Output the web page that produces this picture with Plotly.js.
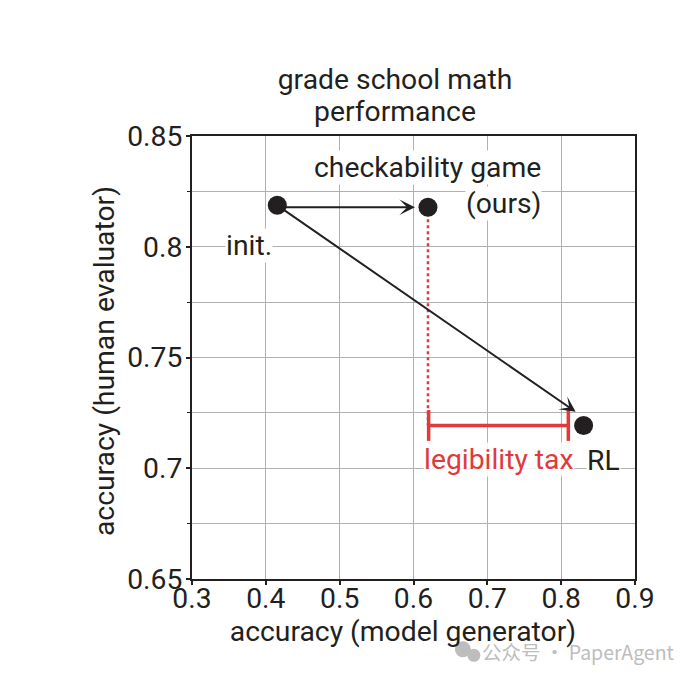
<!DOCTYPE html>
<html><head><meta charset="utf-8">
<script src="https://cdn.plot.ly/plotly-3.0.1.min.js"></script>
<style>html,body{margin:0;padding:0;background:#fff}</style></head>
<body><div id="c" style="width:698px;height:678px"></div>
<script>
const pointNames = ["init.", "ours", "RL"];
const pointX = [0.4155, 0.6196, 0.8304];
const pointY = [0.8187, 0.8178, 0.7193];
const dottedX = [0.6196, 0.6196];
const dottedY = [0.8178, 0.7193];
const taxX = [0.6205, 0.8097];
const taxY = [0.7193, 0.7193];
const arrow1 = {x0: 0.4155, y0: 0.8178, x1: 0.602, y1: 0.8178};
const arrow2 = {x0: 0.4155, y0: 0.8187, x1: 0.8196, y1: 0.7255};
const xTicks = [0.3,0.4,0.5,0.6,0.7,0.8,0.9];
const xLabels = ["0.3","0.4","0.5","0.6","0.7","0.8","0.9"];
const yTicks = [0.65,0.7,0.75,0.8,0.85];
const yLabels = ["0.65","0.7","0.75","0.8","0.85"];
const ink = "#231f20", red = "#e03a3a", grid = "#b0b0b0", mark = "#bdbdbd";
const font = "Roboto, sans-serif";
const fs = 28.3;
const L = 191.5, R = 62.5, T = 135.7, B = 99.3;
const PW = 698 - L - R, PH = 678 - T - B, PB = 678 - B;
const label = (t,x,y,o={}) => Object.assign({text:t,x:x,y:y,xref:"x",yref:"y",showarrow:false,
  font:{family:font,size:fs,color:ink},bgcolor:"#fff",borderpad:0},o);
const arrow = a => ({x:a.x1,y:a.y1,ax:a.x0,ay:a.y0,xref:"x",yref:"y",axref:"x",ayref:"y",text:"",
  showarrow:true,arrowhead:3,arrowsize:1.3,arrowwidth:2,arrowcolor:ink});
const traces = [
 {x:dottedX,y:dottedY,mode:"lines",line:{color:red,width:2.5,dash:"3px,3px"},hoverinfo:"skip"},
 {x:taxX,y:taxY,mode:"lines+markers",line:{color:red,width:3.5},
  marker:{symbol:"line-ns",size:22,line:{color:red,width:3.5}},hoverinfo:"skip"},
 {x:pointX,y:pointY,text:pointNames,mode:"markers",marker:{color:ink,size:19}}
];
const circle = (cx,cy,r) => ({type:"circle",xref:"paper",yref:"paper",
  x0:(cx-r-L)/PW,x1:(cx+r-L)/PW,y0:(PB-cy-r)/PH,y1:(PB-cy+r)/PH,
  fillcolor:mark,line:{width:0},layer:"above"});
const layout = {
 width:698,height:678,showlegend:false,paper_bgcolor:"#fff",plot_bgcolor:"#fff",
 margin:{l:L,r:R,t:T,b:B,pad:0},
 title:{text:"grade school math",font:{family:font,size:fs,color:ink},
  x:395/698,xanchor:"center",y:1-69/678,yanchor:"top"},
 font:{family:font,color:ink},
 shapes:[circle(463,649,8),circle(474,655,6.5)],
 xaxis:{range:[0.3,0.9],tickvals:xTicks,ticktext:xLabels,ticks:"outside",ticklen:4,tickwidth:2,tickcolor:ink,
  tickfont:{family:font,size:fs,color:ink},showgrid:true,gridcolor:grid,gridwidth:1,zeroline:false,ticklabelstandoff:-11,
  showline:true,linecolor:ink,linewidth:2,mirror:true,
  title:{text:"accuracy (model generator)&nbsp;&nbsp;&nbsp;",font:{family:font,size:fs,color:ink},standoff:0}},
 yaxis:{range:[0.65,0.85],tickvals:yTicks,ticktext:yLabels,ticks:"outside",ticklen:4,tickwidth:2,tickcolor:ink,
  tickfont:{family:font,size:fs,color:ink},showgrid:true,gridcolor:grid,gridwidth:1,zeroline:false,ticklabelstandoff:-2,
  minor:{dtick:0.025,tick0:0.65,showgrid:true,gridcolor:grid,gridwidth:1,ticks:"outside",ticklen:3,tickcolor:ink,tickwidth:1},
  showline:true,linecolor:ink,linewidth:2,mirror:true,
  title:{text:"accuracy (human evaluator)&nbsp;",font:{family:font,size:fs,color:ink},standoff:4}},
 annotations:[
  label("performance",(395-L)/PW,(PB-111)/PH,{xref:"paper",yref:"paper",yanchor:"middle",bgcolor:"rgba(0,0,0,0)"}),
  label("checkability game",0.7735,0.8356,{xanchor:"right",yanchor:"middle"}),
  label("(ours)",0.7735,0.8195,{xanchor:"right",yanchor:"middle"}),
  label("init.",0.3777,0.8005),
  label("legibility tax",0.7155,0.7038,{font:{family:font,size:fs,color:red},bgcolor:"rgba(255,255,255,0.85)"}),
  label("RL",0.8568,0.7036),
  arrow(arrow1),arrow(arrow2),
  {text:"公众号 · PaperAgent",xref:"paper",yref:"paper",x:(678-L)/PW,y:(PB-651)/PH,xanchor:"right",yanchor:"middle",
   showarrow:false,font:{family:"'Noto Sans CJK SC', sans-serif",size:19.5,color:mark}}
 ]
};
Plotly.newPlot("c",traces,layout,{displayModeBar:false,staticPlot:true});
</script></body></html>
